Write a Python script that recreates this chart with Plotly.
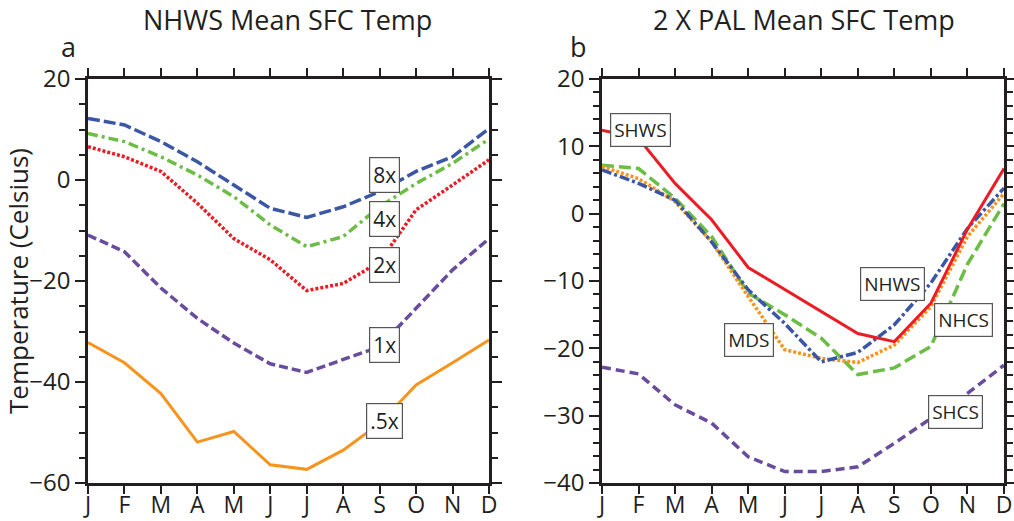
import plotly.graph_objects as go

months = ["J", "F", "M", "A", "M", "J", "J", "A", "S", "O", "N", "D"]
month_idx = list(range(12))

# Panel a: NHWS mean surface temperature for several CO2 levels
nhws_8x = [12.2, 10.9, 7.6, 3.6, -1.0, -5.6, -7.4, -5.3, -2.3, 1.7, 4.6, 10.2]
nhws_4x = [9.2, 7.6, 4.6, 1.0, -3.3, -8.9, -13.2, -11.2, -5.3, -0.7, 3.3, 8.1]
nhws_2x = [6.6, 4.6, 1.7, -4.6, -11.6, -15.8, -21.9, -20.5, -16.2, -5.9, -1.0, 4.0]
nhws_1x = [-10.9, -14.2, -21.4, -27.4, -32.3, -36.4, -38.1, -35.6, -33.0, -25.4, -17.8, -11.6]
nhws_05x = [-32.2, -36.2, -42.3, -51.9, -49.8, -56.4, -57.3, -53.5, -48.2, -40.6, -36.2, -31.7]

# Panel b: 2 X PAL mean surface temperature by region
shws = [12.4, 11.2, 4.5, -0.9, -8.0, -11.3, -14.6, -17.8, -19.0, -13.3, -2.3, 6.7]
nhcs = [7.2, 6.7, 2.3, -3.4, -11.8, -15.0, -18.5, -23.9, -22.9, -19.7, -7.5, 1.5]
nhws = [6.5, 4.5, 2.0, -4.2, -11.3, -16.3, -22.0, -20.6, -16.5, -10.3, -2.2, 3.8]
mds = [7.0, 5.2, 1.8, -4.2, -12.3, -20.2, -21.5, -22.1, -19.5, -13.8, -3.4, 3.0]
shcs = [-22.8, -23.8, -28.4, -31.1, -36.1, -38.3, -38.3, -37.6, -34.1, -30.4, -26.7, -22.5]

BLUE = "#3a56a5"
GREEN = "#6cbd45"
RED = "#ec1c24"
PURPLE = "#6a4c9e"
ORANGE = "#f7941d"
INK = "#231f20"

FONT = "Open Sans"

fig = go.Figure()

left_series = [
    ("8x", nhws_8x, BLUE, "12px,4px", 3.5),
    ("4x", nhws_4x, GREEN, "10px,4px,3px,4px", 3.5),
    ("2x", nhws_2x, RED, "3px,2px", 3.5),
    ("1x", nhws_1x, PURPLE, "9px,4px", 3.5),
    (".5x", nhws_05x, ORANGE, "solid", 3),
]
for name, vals, col, dash, w in left_series:
    fig.add_trace(go.Scatter(x=month_idx, y=vals, mode="lines", name=name,
                             line=dict(color=col, dash=dash, width=w),
                             xaxis="x", yaxis="y", showlegend=False))

right_series = [
    ("SHCS", shcs, PURPLE, "9px,5px", 3.5),
    ("NHCS", nhcs, GREEN, "12px,5px", 3.5),
    ("MDS", mds, ORANGE, "3px,2px", 3.5),
    ("NHWS", nhws, BLUE, "10px,3px,3px,3px", 3.5),
    ("SHWS", shws, RED, "solid", 3),
]
for name, vals, col, dash, w in right_series:
    fig.add_trace(go.Scatter(x=month_idx, y=vals, mode="lines", name=name,
                             line=dict(color=col, dash=dash, width=w),
                             xaxis="x2", yaxis="y2", showlegend=False))

# Curve labels in boxes
left_labels = [("8x", 8.12, 1.0), ("4x", 8.12, -7.7), ("2x", 8.12, -16.8),
               ("1x", 8.12, -32.7), (".5x", 8.12, -47.7)]
right_labels = [("SHWS", 1.04, 12.4), ("NHWS", 7.96, -10.4), ("NHCS", 9.9, -15.8),
                ("MDS", 4.02, -18.8), ("SHCS", 9.66, -29.5)]

annotations = []
for txt, xv, yv in left_labels:
    annotations.append(dict(x=xv, y=yv, xref="x", yref="y", text=txt, showarrow=False,
                            font=dict(family=FONT, size=21, color=INK),
                            bgcolor="white", bordercolor="#555555", borderwidth=1.2,
                            borderpad=3))
for txt, xv, yv in right_labels:
    annotations.append(dict(x=xv, y=yv, xref="x2", yref="y2", text=txt, showarrow=False,
                            font=dict(family=FONT, size=19, color=INK),
                            bgcolor="white", bordercolor="#555555", borderwidth=1.2,
                            borderpad=3))

W, H = 1014, 521

# Panel titles and letters (pixel positions converted to paper fractions)
for txt, px, py in [("NHWS Mean SFC Temp", 287, 20), ("2 X PAL Mean SFC Temp", 804, 20),
                    ("a", 68, 46), ("b", 578, 46)]:
    annotations.append(dict(x=px / W, y=1 - py / H, xref="paper", yref="paper",
                            text=txt, showarrow=False, xanchor="center", yanchor="middle",
                            font=dict(family=FONT, size=27, color=INK)))


def xaxis_cfg(x0, x1, anchor):
    return dict(domain=[x0 / W, x1 / W], range=[0, 11], anchor=anchor, automargin=False,
                tickmode="array", tickvals=month_idx, ticktext=months,
                ticks="outside", ticklen=8, tickwidth=2, tickcolor=INK,
                ticklabelstandoff=-8,
                showline=True, linecolor=INK, linewidth=2.5, mirror="allticks",
                showgrid=False, zeroline=False,
                tickfont=dict(family=FONT, size=23, color=INK))


def yaxis_cfg(rng, dtick, minor, anchor):
    return dict(domain=[1 - 483 / H, 1 - 79 / H], range=rng, anchor=anchor,
                automargin=False,
                dtick=dtick, tick0=0, ticks="outside", ticklen=10, tickwidth=2,
                tickcolor=INK,
                minor=dict(dtick=minor, tick0=0, ticks="outside", ticklen=6,
                           tickwidth=1.5, tickcolor=INK, showgrid=False),
                showline=True, linecolor=INK, linewidth=2.5, mirror="allticks",
                showgrid=False, zeroline=False,
                tickfont=dict(family=FONT, size=24, color=INK))


fig.update_layout(
    width=W, height=H, autosize=False,
    margin=dict(l=0, r=0, t=0, b=0),
    paper_bgcolor="white", plot_bgcolor="white",
    xaxis=xaxis_cfg(88, 489, "y"),
    yaxis=dict(yaxis_cfg([-60, 20], 20, 5, "x"),
               title=dict(text="Temperature (Celsius)", standoff=8,
                          font=dict(family=FONT, size=26, color=INK))),
    xaxis2=xaxis_cfg(602, 1004, "y2"),
    yaxis2=yaxis_cfg([-40, 20], 10, 2, "x2"),
    annotations=annotations,
)

fig.write_html("out.html")
